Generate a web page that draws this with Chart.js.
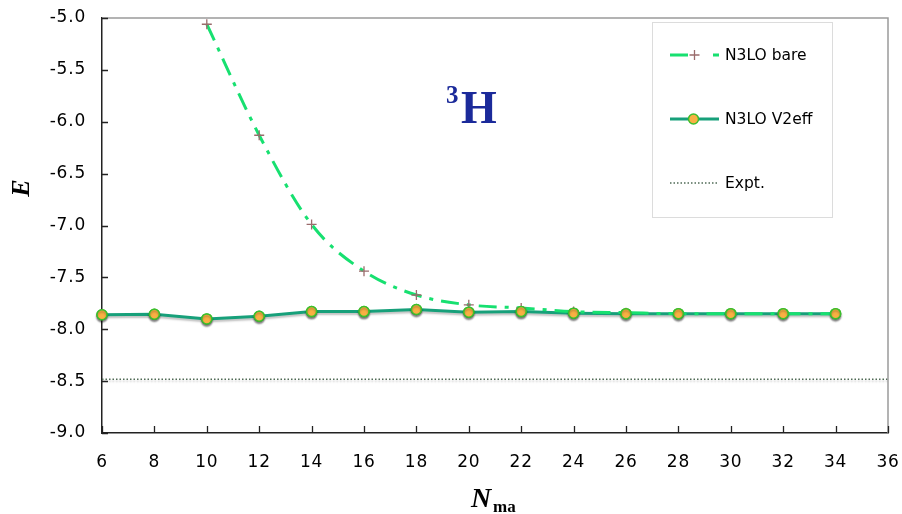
<!DOCTYPE html>
<html>
<head>
<meta charset="utf-8">
<script src="https://cdn.jsdelivr.net/npm/chart.js@4"></script>
<style>
  html, body { margin: 0; padding: 0; background: #fff; }
  #wrap { width: 902px; height: 514px; }
</style>
</head>
<body>
<div id="wrap"><canvas id="c" width="902" height="514"></canvas></div>
<script>
// Triton ground-state energy vs. model-space size
const nmaxBare = [10, 12, 14, 16, 18, 20, 22, 24, 26, 28, 30, 32, 34];
const eBare    = [-5.06, -6.13, -6.99, -7.44, -7.67, -7.765, -7.795, -7.83, -7.84, -7.85, -7.85, -7.85, -7.85];
const nmaxV2   = [6, 8, 10, 12, 14, 16, 18, 20, 22, 24, 26, 28, 30, 32, 34];
const eV2eff   = [-7.86, -7.855, -7.90, -7.875, -7.83, -7.83, -7.81, -7.835, -7.83, -7.845, -7.85, -7.85, -7.85, -7.85, -7.85];
const exptRange = [6, 36];
const eExpt = -8.482;
const xTickValues = [6, 8, 10, 12, 14, 16, 18, 20, 22, 24, 26, 28, 30, 32, 34, 36];
const yTickValues = [-9.0, -8.5, -8.0, -7.5, -7.0, -6.5, -6.0, -5.5, -5.0];
const seriesNames = ['N3LO bare', 'N3LO V2eff', 'Expt.'];

const C_BARE = '#17e070';
const C_CROSS = '#9a6b6b';
const C_V2 = '#17a07a';
const C_V2_FILL = '#f9b043';
const C_V2_EDGE = '#3cbf2c';
const C_EXPT = '#4f6a55';

const pts = (xs, ys) => xs.map((x, i) => ({ x, y: ys[i] }));

// slightly tracked tick labels
const spacingPlugin = {
  id: 'spacing',
  beforeDraw(chart) { chart.ctx.letterSpacing = '0.8px'; },
  afterDraw(chart) { chart.ctx.letterSpacing = '0px'; }
};

// shadows under the V2eff curve and the experimental line
const shadowPlugin = {
  id: 'shadows',
  beforeDatasetDraw(chart, args) {
    if (args.index === 1 || args.index === 2) {
      const ctx = chart.ctx;
      ctx.save();
      ctx.shadowColor = 'rgba(0,0,0,0.25)';
      ctx.shadowOffsetY = 2;
      ctx.shadowBlur = 2;
    }
  },
  afterDatasetDraw(chart, args) {
    if (args.index === 1 || args.index === 2) chart.ctx.restore();
  },
  afterDatasetsDraw(chart) {
    // V2eff markers sit above every line
    const ctx = chart.ctx;
    const meta = chart.getDatasetMeta(1);
    ctx.save();
    ctx.shadowColor = 'rgba(0,0,0,0.25)';
    ctx.shadowOffsetY = 2;
    ctx.shadowBlur = 2;
    meta.data.forEach(p => p.draw(ctx));
    ctx.restore();
  }
};

// gray frame on top/right plus inward tick marks
const framePlugin = {
  id: 'frame',
  afterDraw(chart) {
    const ctx = chart.ctx;
    const { left, right, top, bottom } = chart.chartArea;
    const xs = chart.scales.x, ys = chart.scales.y;
    ctx.save();
    ctx.strokeStyle = '#9a9a9a';
    ctx.lineWidth = 1.5;
    ctx.beginPath();
    ctx.moveTo(left, top);
    ctx.lineTo(right, top);
    ctx.lineTo(right, bottom);
    ctx.stroke();
    ctx.strokeStyle = '#222';
    ctx.lineWidth = 1.3;
    ctx.beginPath();
    xs.ticks.forEach(t => {
      const px = Math.round(xs.getPixelForValue(t.value)) + 0.5;
      ctx.moveTo(px, bottom);
      ctx.lineTo(px, bottom - 7);
    });
    ys.ticks.forEach(t => {
      const py = Math.round(ys.getPixelForValue(t.value)) + 0.5;
      ctx.moveTo(left, py);
      ctx.lineTo(left + 6, py);
    });
    ctx.stroke();
    ctx.restore();
  }
};

// axis titles, nucleus label and legend box
const textPlugin = {
  id: 'texts',
  afterDraw(chart) {
    const ctx = chart.ctx;
    ctx.save();
    ctx.letterSpacing = '0px';
    ctx.fillStyle = '#000';
    ctx.textBaseline = 'alphabetic';
    // y title
    ctx.save();
    ctx.translate(29, 188);
    ctx.rotate(-Math.PI / 2);
    ctx.font = 'bold italic 26px "Liberation Serif"';
    ctx.textAlign = 'center';
    ctx.fillText('E', 0, 0);
    ctx.restore();
    // x title
    ctx.textAlign = 'left';
    ctx.font = 'bold italic 28px "Liberation Serif"';
    ctx.fillText('N', 471, 507);
    ctx.font = 'bold 17px "Liberation Serif"';
    ctx.fillText('ma', 493, 512);
    // nucleus
    ctx.fillStyle = '#1b2a9a';
    ctx.font = 'bold 25px "Liberation Serif"';
    ctx.fillText('3', 446, 103);
    ctx.font = 'bold 46px "Liberation Serif"';
    ctx.fillText('H', 461, 123);

    // legend
    ctx.fillStyle = '#fff';
    ctx.fillRect(652, 22, 180, 195);
    ctx.strokeStyle = '#dcdcdc';
    ctx.lineWidth = 1;
    ctx.strokeRect(652.5, 22.5, 180, 195);
    const rows = [55, 119, 183];
    const x0 = 670, x1 = 719, xm = 694.5;
    // bare
    ctx.strokeStyle = C_BARE;
    ctx.lineWidth = 3;
    ctx.beginPath();
    ctx.moveTo(x0, rows[0]); ctx.lineTo(688, rows[0]);
    ctx.moveTo(713, rows[0]); ctx.lineTo(x1, rows[0]);
    ctx.stroke();
    ctx.strokeStyle = C_CROSS;
    ctx.lineWidth = 1.3;
    ctx.beginPath();
    ctx.moveTo(xm - 5, rows[0]); ctx.lineTo(xm + 5, rows[0]);
    ctx.moveTo(xm, rows[0] - 5); ctx.lineTo(xm, rows[0] + 5);
    ctx.stroke();
    // V2eff
    ctx.strokeStyle = C_V2;
    ctx.lineWidth = 3;
    ctx.beginPath();
    ctx.moveTo(x0, rows[1]); ctx.lineTo(x1, rows[1]);
    ctx.stroke();
    ctx.beginPath();
    ctx.arc(xm - 1, rows[1], 5, 0, Math.PI * 2);
    ctx.fillStyle = C_V2_FILL;
    ctx.fill();
    ctx.strokeStyle = C_V2_EDGE;
    ctx.lineWidth = 1.5;
    ctx.stroke();
    // Expt
    ctx.strokeStyle = C_EXPT;
    ctx.lineWidth = 1.5;
    ctx.setLineDash([1.5, 2]);
    ctx.beginPath();
    ctx.moveTo(x0, rows[2]); ctx.lineTo(x1, rows[2]);
    ctx.stroke();
    ctx.setLineDash([]);
    ctx.fillStyle = '#000';
    ctx.font = '15.5px "DejaVu Sans"';
    ctx.textBaseline = 'middle';
    seriesNames.forEach((n, i) => ctx.fillText(n, 725, rows[i] + 1));
    ctx.restore();
  }
};

new Chart(document.getElementById('c'), {
  type: 'line',
  data: {
    datasets: [
      {
        label: seriesNames[0],
        data: pts(nmaxBare, eBare),
        borderColor: C_BARE,
        borderWidth: 3,
        borderDash: [18, 8, 4, 8],
        cubicInterpolationMode: 'monotone',
        pointStyle: 'cross',
        pointRadius: 5,
        pointBorderColor: C_CROSS,
        pointBorderWidth: 1.3,
        fill: false,
        clip: false
      },
      {
        label: seriesNames[1],
        data: pts(nmaxV2, eV2eff),
        borderColor: C_V2,
        borderWidth: 3,
        tension: 0,
        pointStyle: 'circle',
        pointRadius: 5,
        pointBackgroundColor: C_V2_FILL,
        pointBorderColor: C_V2_EDGE,
        pointBorderWidth: 1.5,
        fill: false,
        clip: false
      },
      {
        label: seriesNames[2],
        data: exptRange.map(x => ({ x, y: eExpt })),
        borderColor: C_EXPT,
        borderWidth: 1.5,
        borderDash: [1.5, 2],
        pointRadius: 0,
        fill: false
      }
    ]
  },
  options: {
    responsive: false,
    animation: false,
    events: [],
    layout: { padding: { top: 18, right: 14, left: 0, bottom: 0 } },
    plugins: { legend: { display: false }, tooltip: { enabled: false } },
    scales: {
      x: {
        type: 'linear',
        min: 6, max: 36,
        afterBuildTicks: s => { s.ticks = xTickValues.map(v => ({ value: v })); },
        afterFit: s => { s.height = 81; s.paddingLeft = 0; s.paddingRight = 0; },
        grid: { display: false, drawTicks: false },
        border: { display: true, color: '#222', width: 1.5 },
        ticks: {
          padding: 19,
          color: '#000',
          font: { family: '"DejaVu Sans"', size: 17 },
          callback: v => String(v),
          maxRotation: 0
        }
      },
      y: {
        type: 'linear',
        min: -9, max: -5,
        afterBuildTicks: s => { s.ticks = yTickValues.map(v => ({ value: v })); },
        afterFit: s => { s.width = 102; s.paddingTop = 0; s.paddingBottom = 0; },
        grid: { display: false, drawTicks: false },
        border: { display: true, color: '#222', width: 1.5 },
        ticks: {
          padding: 16,
          color: '#000',
          font: { family: '"DejaVu Sans"', size: 17 },
          callback: v => v.toFixed(1)
        }
      }
    }
  },
  plugins: [spacingPlugin, shadowPlugin, framePlugin, textPlugin]
});
</script>
</body>
</html>
